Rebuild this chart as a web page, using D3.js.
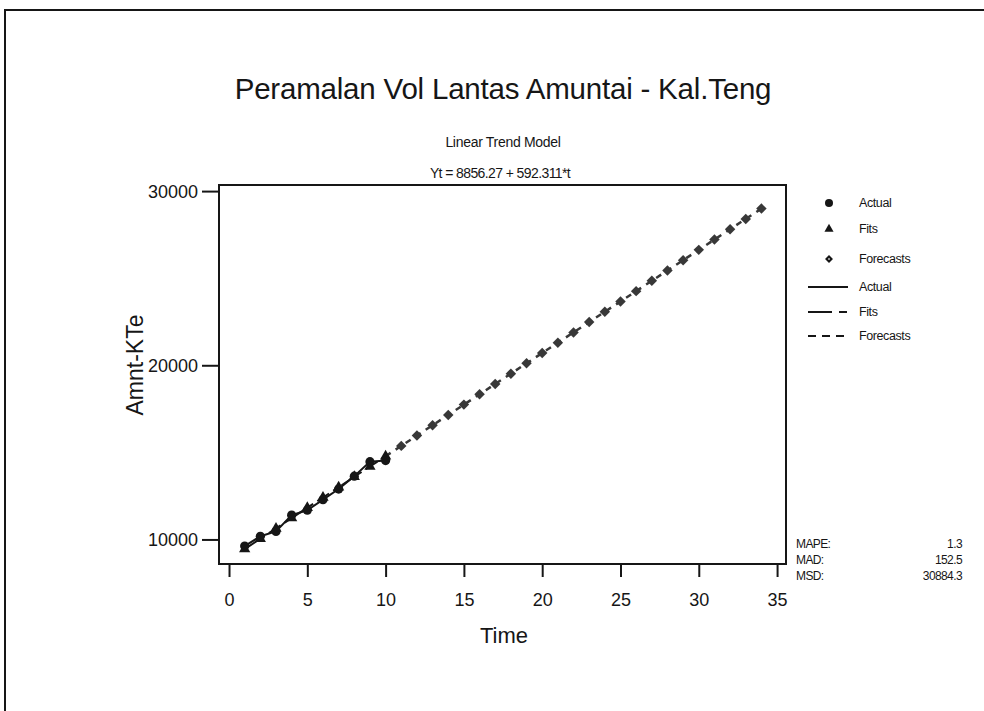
<!DOCTYPE html>
<html>
<head>
<meta charset="utf-8">
<script src="https://cdn.jsdelivr.net/npm/d3@7"></script>
<style>
    body { margin: 0; background: #fff; }
    text { font-family: "Liberation Sans", Arial, sans-serif; fill: #161616; }
</style>
</head>
<body>
<div id="chart"></div>
<script>
// data
const actualTime = [1, 2, 3, 4, 5, 6, 7, 8, 9, 10];
const actualValues = [9619, 10181, 10463, 11396, 11678, 12285, 12892, 13635, 14467, 14529];
const fitValues = [9448.58, 10040.89, 10633.20, 11225.51, 11817.83, 12410.14, 13002.45, 13594.76, 14187.07, 14779.38];
const forecastTime = [11, 12, 13, 14, 15, 16, 17, 18, 19, 20, 21, 22, 23, 24, 25, 26, 27, 28, 29, 30, 31, 32, 33, 34];
const forecastValues = [15371.69, 15964.00, 16556.31, 17148.62, 17740.94, 18333.25, 18925.56, 19517.87,
    20110.18, 20702.49, 21294.80, 21887.11, 22479.42, 23071.73, 23664.05, 24256.36, 24848.67, 25440.98,
    26033.29, 26625.60, 27217.91, 27810.22, 28402.53, 28994.84];
const xTicks = [0, 5, 10, 15, 20, 25, 30, 35];
const yTicks = [10000, 20000, 30000];
const legendSymbols = ["Actual", "Fits", "Forecasts"];
const legendLines = ["Actual", "Fits", "Forecasts"];
const accuracyLabels = ["MAPE:", "MAD:", "MSD:"];
const accuracyValues = ["1.3", "152.5", "30884.3"];

const W = 984, H = 711;
const frame = { left: 219, right: 786, top: 185, bottom: 564 };
const ink = "#161616";
const grey = "#383838";

const svg = d3.select("#chart")
    .append("svg")
    .attr("width", W)
    .attr("height", H);

svg.append("rect")
    .attr("width", W)
    .attr("height", H)
    .attr("fill", "#fff");

// scanned page border
svg.append("path")
    .attr("d", `M5,${H + 5}V10H${W + 5}`)
    .attr("fill", "none")
    .attr("stroke", ink)
    .attr("stroke-width", 2);

const x = d3.scaleLinear().domain([-0.64, 35.57]).range([frame.left, frame.right]);
const y = d3.scaleLinear().domain([8590, 30350]).range([frame.bottom, frame.top]);

// titles
svg.append("text")
    .attr("x", 503).attr("y", 99)
    .attr("text-anchor", "middle")
    .style("font-size", "29.5px")
    .style("letter-spacing", "-0.2px")
    .text("Peramalan Vol Lantas Amuntai - Kal.Teng");

svg.append("text")
    .attr("x", 503).attr("y", 147)
    .attr("text-anchor", "middle")
    .style("font-size", "14px")
    .style("letter-spacing", "-0.3px")
    .text("Linear Trend Model");

svg.append("text")
    .attr("x", 500).attr("y", 178)
    .attr("text-anchor", "middle")
    .style("font-size", "14px")
    .style("letter-spacing", "-0.6px")
    .text("Yt = 8856.27 + 592.311*t");

// axes
const xAxis = svg.append("g")
    .attr("transform", `translate(0,${frame.bottom})`)
    .call(d3.axisBottom(x).tickValues(xTicks).tickSize(13).tickPadding(16).tickSizeOuter(0));

const yAxis = svg.append("g")
    .attr("transform", `translate(${frame.left},0)`)
    .call(d3.axisLeft(y).tickValues(yTicks).tickFormat(d3.format("d")).tickSize(17).tickPadding(4).tickSizeOuter(0));

[xAxis, yAxis].forEach(g => {
    g.select(".domain").remove();
    g.selectAll(".tick line").attr("stroke", ink).attr("stroke-width", 2);
    g.selectAll(".tick text")
        .style("font-size", "18px")
        .style("font-family", "\"Liberation Sans\", Arial, sans-serif")
        .attr("fill", ink);
});
yAxis.selectAll(".tick text").attr("dy", "0.36em");

svg.append("rect")
    .attr("x", frame.left).attr("y", frame.top)
    .attr("width", frame.right - frame.left)
    .attr("height", frame.bottom - frame.top)
    .attr("fill", "none")
    .attr("stroke", ink)
    .attr("stroke-width", 2);

svg.append("text")
    .attr("x", 504).attr("y", 643)
    .attr("text-anchor", "middle")
    .style("font-size", "22px")
    .text("Time");

svg.append("text")
    .attr("transform", "translate(143,365) rotate(-90)")
    .attr("text-anchor", "middle")
    .style("font-size", "23px")
    .text("Amnt-KTe");

// lines
const line = d3.line().x(d => x(d[0])).y(d => y(d[1]));
const actualPts = actualTime.map((t, i) => [t, actualValues[i]]);
const fitPts = actualTime.map((t, i) => [t, fitValues[i]]);
const forecastPts = forecastTime.map((t, i) => [t, forecastValues[i]]);

svg.append("path")
    .attr("d", line(actualPts))
    .attr("fill", "none").attr("stroke", ink).attr("stroke-width", 2);

svg.append("path")
    .attr("d", line(fitPts))
    .attr("fill", "none").attr("stroke", ink).attr("stroke-width", 2)
    .attr("stroke-dasharray", "14,5,5,5");

svg.append("path")
    .attr("d", line([fitPts[fitPts.length - 1], ...forecastPts]))
    .attr("fill", "none").attr("stroke", grey).attr("stroke-width", 2.5)
    .attr("stroke-dasharray", "6,6");

// markers
const triangle = d3.symbol().type(d3.symbolTriangle).size(55);
const diamond = d3.symbol().type(d3.symbolDiamond2).size(70);

svg.selectAll(".fit")
    .data(fitPts)
    .join("path")
    .attr("class", "fit")
    .attr("transform", d => `translate(${x(d[0])},${y(d[1])})`)
    .attr("d", triangle)
    .attr("fill", ink);

svg.selectAll(".act")
    .data(actualPts)
    .join("circle")
    .attr("class", "act")
    .attr("cx", d => x(d[0]))
    .attr("cy", d => y(d[1]))
    .attr("r", 4.6)
    .attr("fill", ink);

svg.selectAll(".fc")
    .data(forecastPts)
    .join("path")
    .attr("class", "fc")
    .attr("transform", d => `translate(${x(d[0])},${y(d[1])})`)
    .attr("d", diamond)
    .attr("fill", grey);

// legend
const legend = svg.append("g").attr("transform", "translate(829,0)");
const legendY = [203, 229, 259, 287, 312, 336];

legend.append("circle").attr("cx", 0).attr("cy", legendY[0]).attr("r", 4).attr("fill", ink);
legend.append("path").attr("transform", `translate(0,${legendY[1]})`)
    .attr("d", d3.symbol().type(d3.symbolTriangle).size(36)).attr("fill", ink);
legend.append("path").attr("transform", `translate(0,${legendY[2]})`)
    .attr("d", d3.symbol().type(d3.symbolDiamond2).size(40)).attr("fill", ink);
legend.append("circle").attr("cx", 0).attr("cy", legendY[2]).attr("r", 1).attr("fill", "#bbb");

const dashes = [null, "24,7,8,7", "8,6"];
legendLines.forEach((name, i) => {
    legend.append("line")
        .attr("x1", -21).attr("x2", 19)
        .attr("y1", legendY[i + 3]).attr("y2", legendY[i + 3])
        .attr("stroke", ink).attr("stroke-width", 2)
        .attr("stroke-dasharray", dashes[i]);
});

legend.selectAll(".lbl")
    .data([...legendSymbols, ...legendLines])
    .join("text")
    .attr("class", "lbl")
    .attr("x", 30)
    .attr("y", (d, i) => legendY[i] + 4)
    .style("font-size", "12.5px")
    .style("letter-spacing", "-0.4px")
    .text(d => d);

// accuracy measures
const accY = [544, 560, 576];
svg.selectAll(".accL")
    .data(accuracyLabels)
    .join("text")
    .attr("class", "accL")
    .attr("x", 796)
    .attr("y", (d, i) => accY[i] + 4)
    .style("font-size", "12px")
    .style("letter-spacing", "-0.6px")
    .text(d => d);

svg.selectAll(".accV")
    .data(accuracyValues)
    .join("text")
    .attr("class", "accV")
    .attr("x", 962)
    .attr("y", (d, i) => accY[i] + 4)
    .attr("text-anchor", "end")
    .style("font-size", "12px")
    .style("letter-spacing", "-0.6px")
    .text(d => d);
</script>
</body>
</html>
